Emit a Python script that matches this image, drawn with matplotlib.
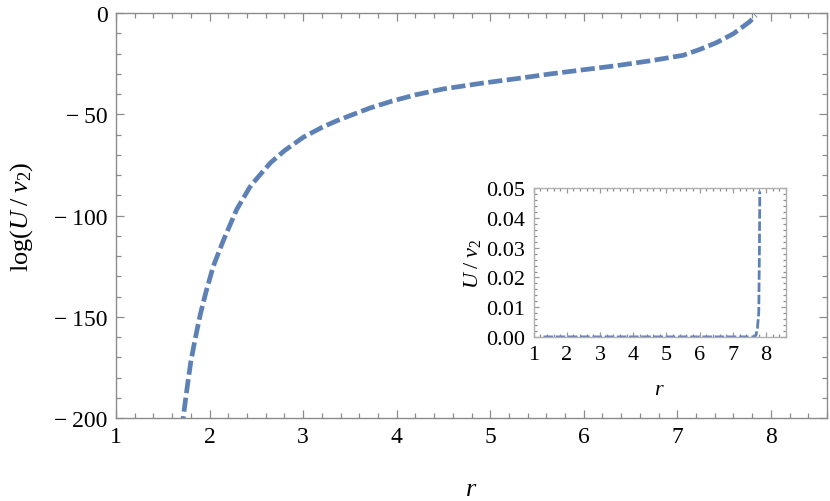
import numpy as np
import matplotlib
matplotlib.use("Agg")
import matplotlib.pyplot as plt
from matplotlib.ticker import MultipleLocator, FuncFormatter

# log(U/v2) vs r
r_main = [1.70, 1.72, 1.76, 1.80, 1.85, 1.90, 1.96, 2.04, 2.15, 2.29, 2.43, 2.50,
          2.65, 2.80, 3.00, 3.20, 3.36, 3.50, 3.71, 3.95, 4.21, 4.50, 4.92, 5.30,
          5.64, 6.00, 6.35, 6.71, 7.06, 7.24, 7.42, 7.60, 7.77, 7.84]
logU_main = [-206, -199, -185, -172, -160, -149, -138, -125, -112, -97, -86, -82,
             -74, -68, -61.4, -56.5, -53.2, -50.7, -47.0, -43.5, -40.3, -37.5, -34.6, -32.3,
             -30.1, -28.0, -26.0, -23.6, -20.9, -18.0, -14.6, -10.2, -4.4, -1.2]

# inset: U/v2 on a linear scale
r_inset = [1.30, 7.66, 7.70, 7.74, 7.78, 7.80, 7.81]
U_inset = [0.0, 0.0, 0.0008, 0.003, 0.0083, 0.03, 0.049]

x_ticks = [1, 2, 3, 4, 5, 6, 7, 8]
y_ticks_main = [0, -50, -100, -150, -200]
y_ticks_inset = [0.00, 0.01, 0.02, 0.03, 0.04, 0.05]

line_color = "#5E81B5"
frame_color = "#8c8c8c"

plt.rcParams["font.family"] = ["Liberation Serif", "DejaVu Serif"]
plt.rcParams["mathtext.fontset"] = "custom"
plt.rcParams["mathtext.rm"] = "Liberation Serif"
plt.rcParams["mathtext.it"] = "Liberation Serif:italic"


def style_frame(ax, major_len, minor_len):
    for s in ax.spines.values():
        s.set_color(frame_color)
        s.set_linewidth(1.0)
    ax.tick_params(which="both", direction="in", top=True, right=True,
                   color=frame_color, width=0.9)
    ax.tick_params(which="major", length=major_len)
    ax.tick_params(which="minor", length=minor_len)


def minus_fmt(v, pos):
    if v < 0:
        return "\u2212\u2009" + "%d" % abs(v)
    return "%d" % v


fig = plt.figure(figsize=(8.3, 5.02), dpi=100)
ax = fig.add_axes([0.1398, 0.1653, 0.8566, 0.8068])
ax.plot(r_main, logU_main, color=line_color, lw=3.4,
        linestyle=(0, (3.0, 0.95)), solid_capstyle="butt", dash_capstyle="butt")
ax.set_xlim(1, 8.6)
ax.set_ylim(-200, 0)
ax.set_xticks(x_ticks)
ax.set_yticks(y_ticks_main)
ax.xaxis.set_minor_locator(MultipleLocator(0.2))
ax.yaxis.set_minor_locator(MultipleLocator(10))
ax.yaxis.set_major_formatter(FuncFormatter(minus_fmt))
style_frame(ax, 6, 3.5)
ax.tick_params(labelsize=17, labelcolor="black", pad=6)
ax.set_xlabel(r"$r$", fontsize=19, labelpad=22)
ax.set_ylabel(r"$\log(U\;/\;v_2)$", fontsize=19, labelpad=14)

ins = fig.add_axes([0.6429, 0.3269, 0.3041, 0.2958])
ins.plot(r_inset, U_inset, color=line_color, lw=2.0,
         linestyle=(0, (3.4, 1.0)), dash_capstyle="butt")
ins.set_xlim(1, 8.6)
ins.set_ylim(0, 0.05)
ins.set_xticks(x_ticks)
ins.set_yticks(y_ticks_inset)
ins.yaxis.set_major_formatter(FuncFormatter(lambda v, p: "%.2f" % v))
ins.xaxis.set_minor_locator(MultipleLocator(0.2))
ins.yaxis.set_minor_locator(MultipleLocator(0.002))
style_frame(ins, 3.5, 2)
for s in ins.spines.values():
    s.set_color("#b0b0b0")
ins.tick_params(labelsize=16, pad=6, color="#999999")
ins.set_xlabel(r"$r$", fontsize=16, labelpad=11)
ins.set_ylabel(r"$U\;/\;v_2$", fontsize=16, labelpad=2)

fig.savefig("out.png", dpi=100)
